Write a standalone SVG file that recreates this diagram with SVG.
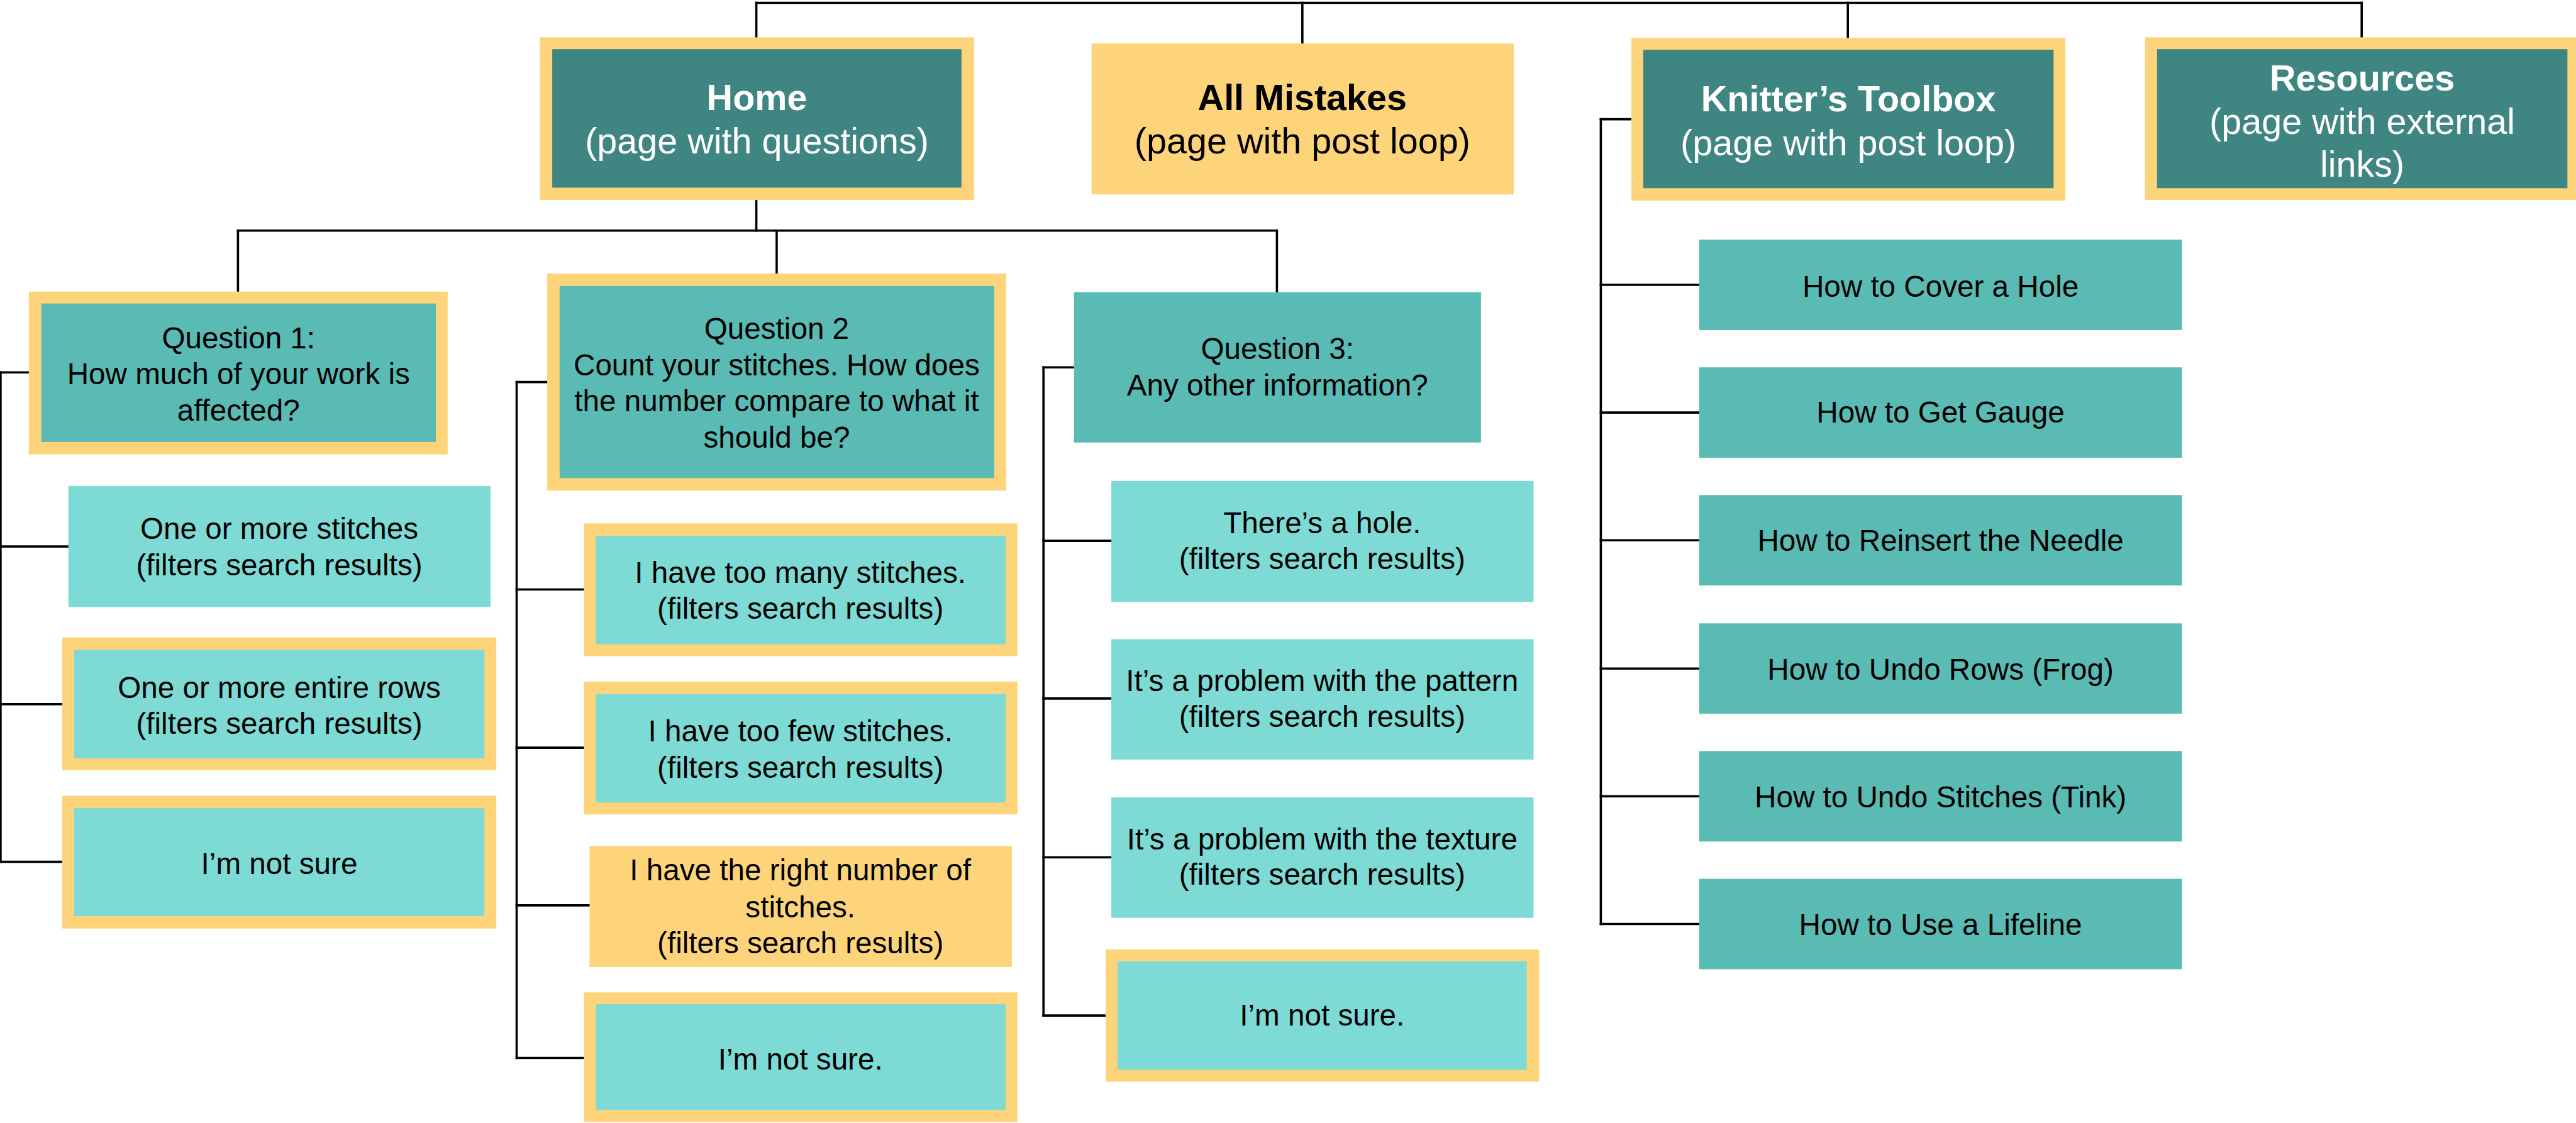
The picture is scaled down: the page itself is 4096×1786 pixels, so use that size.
<svg xmlns="http://www.w3.org/2000/svg" width="4096" height="1786" viewBox="0 0 4096 1786">
<style>
.y{fill:#FED47B}
.d{fill:#3F8682}
.m{fill:#5ABAB4}
.l{fill:#7DDAD4}
text{font-family:"Liberation Sans",Arial,Helvetica,sans-serif;text-anchor:middle;fill:#000}
.t{font-size:64px}
.b{font-weight:bold}
.w{fill:#fff}
.s{font-size:53px}
.c line{stroke:#000;stroke-width:4;stroke-linecap:square}
</style>
<rect width="4096" height="1786" fill="#fff"/>
<g transform="scale(0.8988)">
<g id="connectors" class="c">
<line x1="1338" y1="5" x2="4178" y2="5"/>
<line x1="1338" y1="5" x2="1338" y2="66"/>
<line x1="2304" y1="5" x2="2304" y2="77"/>
<line x1="3269" y1="5" x2="3269" y2="67"/>
<line x1="4178" y1="5" x2="4178" y2="66"/>
<line x1="1338" y1="354" x2="1338" y2="408"/>
<line x1="421" y1="408" x2="2259" y2="408"/>
<line x1="421" y1="408" x2="421" y2="516"/>
<line x1="1374" y1="408" x2="1374" y2="484"/>
<line x1="2259" y1="408" x2="2259" y2="517"/>
<line x1="1" y1="659" x2="51" y2="659"/>
<line x1="1" y1="659" x2="1" y2="1525"/>
<line x1="1" y1="967" x2="121" y2="967"/>
<line x1="1" y1="1246" x2="110" y2="1246"/>
<line x1="1" y1="1525" x2="110" y2="1525"/>
<line x1="914" y1="676" x2="968" y2="676"/>
<line x1="914" y1="676" x2="914" y2="1872"/>
<line x1="914" y1="1043" x2="1033" y2="1043"/>
<line x1="914" y1="1323" x2="1033" y2="1323"/>
<line x1="914" y1="1602" x2="1043" y2="1602"/>
<line x1="914" y1="1872" x2="1033" y2="1872"/>
<line x1="1846" y1="650" x2="1900" y2="650"/>
<line x1="1846" y1="650" x2="1846" y2="1797"/>
<line x1="1846" y1="957" x2="1966" y2="957"/>
<line x1="1846" y1="1236" x2="1966" y2="1236"/>
<line x1="1846" y1="1517" x2="1966" y2="1517"/>
<line x1="1846" y1="1797" x2="1956" y2="1797"/>
<line x1="2832" y1="211" x2="2886" y2="211"/>
<line x1="2832" y1="211" x2="2832" y2="1635"/>
<line x1="2832" y1="504" x2="3006" y2="504"/>
<line x1="2832" y1="730" x2="3006" y2="730"/>
<line x1="2832" y1="956" x2="3006" y2="956"/>
<line x1="2832" y1="1183" x2="3006" y2="1183"/>
<line x1="2832" y1="1409" x2="3006" y2="1409"/>
<line x1="2832" y1="1635" x2="3006" y2="1635"/>
</g>
<g id="home">
<rect class="y" x="955" y="66" width="768" height="288"/>
<rect class="d" x="977" y="87" width="724" height="245"/>
<text class="t b w" x="1339" y="195">Home</text>
<text class="t w" x="1339" y="272">(page with questions)</text>
</g>
<g id="all-mistakes">
<rect class="y" x="1931" y="77" width="747" height="267"/>
<text class="t b" x="2304" y="195">All Mistakes</text>
<text class="t" x="2304" y="272">(page with post loop)</text>
</g>
<g id="toolbox">
<rect class="y" x="2886" y="67" width="768" height="288"/>
<rect class="d" x="2907" y="88" width="726" height="245"/>
<text class="t b w" x="3270" y="197">Knitter’s Toolbox</text>
<text class="t w" x="3270" y="275">(page with post loop)</text>
</g>
<g id="resources">
<rect class="y" x="3795" y="66" width="770" height="288"/>
<rect class="d" x="3816" y="87" width="726" height="246"/>
<text class="t b w" x="4179" y="160">Resources</text>
<text class="t w" x="4179" y="237">(page with external</text>
<text class="t w" x="4179" y="313">links)</text>
</g>
<g id="q1">
<rect class="y" x="51" y="516" width="741" height="288"/>
<rect class="m" x="73" y="537" width="698" height="245"/>
<text class="s" x="422" y="616">Question 1:</text>
<text class="s" x="422" y="680">How much of your work is</text>
<text class="s" x="422" y="744">affected?</text>
</g>
<g id="q1-a1">
<rect class="l" x="121" y="860" width="747" height="214"/>
<text class="s" x="494" y="954">One or more stitches</text>
<text class="s" x="494" y="1018">(filters search results)</text>
</g>
<g id="q1-a2">
<rect class="y" x="110" y="1128" width="768" height="235"/>
<rect class="l" x="131" y="1150" width="726" height="192"/>
<text class="s" x="494" y="1235">One or more entire rows</text>
<text class="s" x="494" y="1298">(filters search results)</text>
</g>
<g id="q1-a3">
<rect class="y" x="110" y="1408" width="768" height="235"/>
<rect class="l" x="131" y="1430" width="726" height="191"/>
<text class="s" x="494" y="1546">I’m not sure</text>
</g>
<g id="q2">
<rect class="y" x="968" y="484" width="812" height="384"/>
<rect class="m" x="990" y="506" width="769" height="340"/>
<text class="s" x="1374" y="600">Question 2</text>
<text class="s" x="1374" y="664">Count your stitches. How does</text>
<text class="s" x="1374" y="728">the number compare to what it</text>
<text class="s" x="1374" y="792">should be?</text>
</g>
<g id="q2-a1">
<rect class="y" x="1033" y="926" width="767" height="235"/>
<rect class="l" x="1054" y="948" width="725" height="192"/>
<text class="s" x="1416" y="1031">I have too many stitches.</text>
<text class="s" x="1416" y="1095">(filters search results)</text>
</g>
<g id="q2-a2">
<rect class="y" x="1033" y="1206" width="767" height="235"/>
<rect class="l" x="1054" y="1228" width="725" height="192"/>
<text class="s" x="1416" y="1312">I have too few stitches.</text>
<text class="s" x="1416" y="1376">(filters search results)</text>
</g>
<g id="q2-a3">
<rect class="y" x="1043" y="1497" width="747" height="214"/>
<text class="s" x="1416" y="1558">I have the right number of</text>
<text class="s" x="1416" y="1623">stitches.</text>
<text class="s" x="1416" y="1687">(filters search results)</text>
</g>
<g id="q2-a4">
<rect class="y" x="1033" y="1756" width="767" height="229"/>
<rect class="l" x="1054" y="1777" width="725" height="187"/>
<text class="s" x="1416" y="1892">I’m not sure.</text>
</g>
<g id="q3">
<rect class="m" x="1900" y="517" width="720" height="266"/>
<text class="s" x="2260" y="635">Question 3:</text>
<text class="s" x="2260" y="700">Any other information?</text>
</g>
<g id="q3-a1">
<rect class="l" x="1966" y="851" width="747" height="214"/>
<text class="s" x="2339" y="943">There’s a hole.</text>
<text class="s" x="2339" y="1007">(filters search results)</text>
</g>
<g id="q3-a2">
<rect class="l" x="1966" y="1131" width="747" height="213"/>
<text class="s" x="2339" y="1223">It’s a problem with the pattern</text>
<text class="s" x="2339" y="1286">(filters search results)</text>
</g>
<g id="q3-a3">
<rect class="l" x="1966" y="1411" width="747" height="213"/>
<text class="s" x="2339" y="1503">It’s a problem with the texture</text>
<text class="s" x="2339" y="1565">(filters search results)</text>
</g>
<g id="q3-a4">
<rect class="y" x="1956" y="1680" width="767" height="234"/>
<rect class="l" x="1977" y="1701" width="724" height="192"/>
<text class="s" x="2339" y="1815">I’m not sure.</text>
</g>
<g id="tb-cover-hole">
<rect class="m" x="3006" y="424" width="854" height="160"/>
<text class="s" x="3433" y="525">How to Cover a Hole</text>
</g>
<g id="tb-gauge">
<rect class="m" x="3006" y="650" width="854" height="160"/>
<text class="s" x="3433" y="748">How to Get Gauge</text>
</g>
<g id="tb-reinsert">
<rect class="m" x="3006" y="876" width="854" height="160"/>
<text class="s" x="3433" y="975">How to Reinsert the Needle</text>
</g>
<g id="tb-frog">
<rect class="m" x="3006" y="1103" width="854" height="160"/>
<text class="s" x="3433" y="1203">How to Undo Rows (Frog)</text>
</g>
<g id="tb-tink">
<rect class="m" x="3006" y="1329" width="854" height="160"/>
<text class="s" x="3433" y="1429">How to Undo Stitches (Tink)</text>
</g>
<g id="tb-lifeline">
<rect class="m" x="3006" y="1555" width="854" height="160"/>
<text class="s" x="3433" y="1654">How to Use a Lifeline</text>
</g>
</g>
</svg>
